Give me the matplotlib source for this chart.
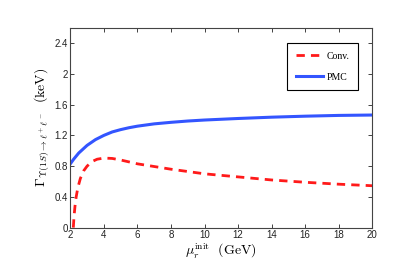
import numpy as np
import matplotlib
matplotlib.use("Agg")
import matplotlib.pyplot as plt

plt.rcParams["mathtext.fontset"] = "cm"
plt.rcParams["font.family"] = ["Liberation Sans", "DejaVu Sans"]

# data
mu_pmc = [2.0, 2.2, 2.5, 3.0, 3.5, 4.0, 4.5, 5.0, 5.5, 6.0, 7.0, 8.0, 9.0, 10.0,
          12.0, 14.0, 16.0, 18.0, 20.0]
gamma_pmc = [0.83, 0.89, 0.97, 1.07, 1.145, 1.20, 1.245, 1.275, 1.30, 1.32, 1.35,
             1.37, 1.387, 1.40, 1.42, 1.437, 1.45, 1.46, 1.465]

mu_conv = [2.18, 2.22, 2.28, 2.35, 2.45, 2.6, 2.8, 3.0, 3.3, 3.6, 4.0, 4.5, 5.0,
           6.0, 7.0, 8.0, 10.0, 12.0, 14.0, 16.0, 18.0, 20.0]
gamma_conv = [0.0, 0.14, 0.28, 0.4, 0.52, 0.64, 0.74, 0.8, 0.86, 0.89, 0.905, 0.9,
              0.88, 0.83, 0.795, 0.76, 0.70, 0.66, 0.62, 0.59, 0.565, 0.545]

x_ticks = [2, 4, 6, 8, 10, 12, 14, 16, 18, 20]
y_ticks = [0, 0.4, 0.8, 1.2, 1.6, 2, 2.4]
y_ticklabels = ["0", "0.4", "0.8", "1.2", "1.6", "2", "2.4"]

fig = plt.figure(figsize=(4.15, 2.7), dpi=100)
ax = fig.add_axes([0.1694, 0.157, 0.7276, 0.740])

ax.plot(mu_conv, gamma_conv, color="#ff1a1a", lw=2.0, ls=(0, (3, 2.2)), label="Conv.")
ax.plot(mu_pmc, gamma_pmc, color="#3355ff", lw=2.2, label="PMC")

ax.set_xlim(2, 20)
ax.set_ylim(0, 2.6)
ax.set_xticks(x_ticks)
ax.set_yticks(y_ticks)
ax.set_yticklabels(y_ticklabels)
ax.tick_params(direction="in", top=True, right=True, labelsize=7, length=3,
               width=0.6, colors="#222222", pad=2)
for s in ax.spines.values():
    s.set_linewidth(0.8)
    s.set_color("#444444")

ax.set_xlabel(r"$\mu_r^{\rm init}\ \ (\rm GeV)$", fontsize=10, labelpad=1)
ax.set_ylabel(r"$\Gamma_{\Upsilon(1S)\to\ell^+\ell^-}\ \ (\rm keV)$", fontsize=10, labelpad=2)

leg = ax.legend(loc="upper right", bbox_to_anchor=(0.953, 0.9235), borderaxespad=0,
                fancybox=False, edgecolor="black", framealpha=1, handlelength=2.8,
                prop={"family": "Liberation Serif", "size": 7}, borderpad=0.9,
                labelspacing=1.2, handletextpad=0.3)
leg.get_frame().set_linewidth(0.8)

fig.savefig("out.png", dpi=100)
